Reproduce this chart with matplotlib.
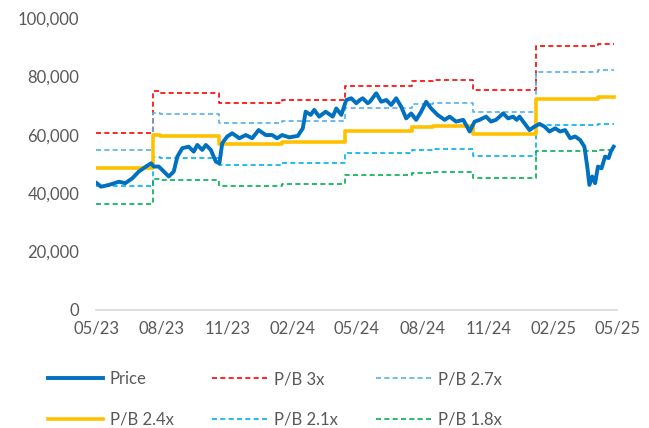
import pandas as pd
import matplotlib
matplotlib.use("Agg")
import matplotlib.pyplot as plt
import matplotlib.dates as mdates
from matplotlib.ticker import FuncFormatter

# share price (VND)
price_dates = [
    "2023-05-02", "2023-05-08", "2023-05-19", "2023-06-02", "2023-06-11", "2023-06-21",
    "2023-06-30", "2023-07-10", "2023-07-17", "2023-07-21", "2023-07-28", "2023-08-04",
    "2023-08-11", "2023-08-18", "2023-08-23", "2023-08-30", "2023-09-08", "2023-09-15",
    "2023-09-20", "2023-09-27", "2023-10-02", "2023-10-09", "2023-10-16", "2023-10-21",
    "2023-10-25", "2023-11-01", "2023-11-08", "2023-11-18", "2023-11-27", "2023-12-06",
    "2023-12-15", "2023-12-25", "2024-01-03", "2024-01-10", "2024-01-17", "2024-01-27",
    "2024-02-08", "2024-02-15", "2024-02-19", "2024-02-26", "2024-03-02", "2024-03-09",
    "2024-03-18", "2024-03-28", "2024-04-02", "2024-04-09", "2024-04-16", "2024-04-23",
    "2024-04-30", "2024-05-05", "2024-05-09", "2024-05-16", "2024-05-19", "2024-05-28",
    "2024-06-04", "2024-06-11", "2024-06-18", "2024-06-25", "2024-07-02", "2024-07-09",
    "2024-07-16", "2024-07-23", "2024-07-30", "2024-08-06", "2024-08-13", "2024-08-22",
    "2024-09-01", "2024-09-08", "2024-09-17", "2024-09-27", "2024-10-01", "2024-10-06",
    "2024-10-13", "2024-10-20", "2024-10-29", "2024-11-05", "2024-11-12", "2024-11-22",
    "2024-11-29", "2024-12-06", "2024-12-11", "2024-12-15", "2024-12-22", "2024-12-29",
    "2025-01-05", "2025-01-12", "2025-01-19", "2025-01-26", "2025-02-03", "2025-02-10",
    "2025-02-17", "2025-02-24", "2025-03-03", "2025-03-10", "2025-03-16", "2025-03-20",
    "2025-03-23", "2025-03-27", "2025-03-31", "2025-04-04", "2025-04-09", "2025-04-14",
    "2025-04-19", "2025-04-22", "2025-04-26",
]
price = [
    43400, 42200, 42800, 43900, 43400, 45100,
    47400, 49100, 50200, 49100, 49100, 47400,
    45700, 47400, 52500, 55400, 55900, 54200,
    56500, 54800, 56500, 54800, 50800, 50200,
    57100, 59400, 60500, 58800, 59900, 58800,
    61600, 59900, 59900, 58800, 59900, 59100,
    59600, 62200, 67900, 66800, 68500, 66200,
    67900, 66200, 69000, 66800, 71900, 72500,
    70800, 71900, 72500, 70800, 71300, 74200,
    71300, 71900, 70200, 72500, 69600, 65600,
    67300, 65100, 67900, 71300, 69000, 66800,
    65100, 66200, 64500, 65100, 63400, 61100,
    64500, 65100, 66200, 64500, 65100, 67300,
    65600, 66200, 65100, 66200, 63900, 61600,
    62800, 63700, 62800, 61100, 62200, 61100,
    61600, 58800, 59400, 58200, 55900, 49100,
    42800, 45700, 43400, 49100, 48500, 52500,
    52000, 54200, 55900,
]

# P/B bands, each value holds until the next date
band_dates = [
    "2023-05-01", "2023-07-20", "2023-07-29", "2023-10-21", "2024-01-17", "2024-04-14",
    "2024-07-17", "2024-08-16", "2024-10-11", "2025-01-07", "2025-04-04", "2025-04-26",
]
pb_30 = [60700, 75000, 74400, 71000, 71900, 76800, 78400, 78800, 75300, 90500, 91200, 91200]
pb_27 = [54700, 67500, 67000, 63900, 64700, 69100, 70600, 70900, 67800, 81500, 82100, 82100]
pb_24 = [48600, 60000, 59500, 56800, 57500, 61400, 62700, 63000, 60200, 72400, 73000, 73000]
pb_21 = [42500, 52500, 52100, 49700, 50300, 53800, 54900, 55200, 52700, 63400, 63800, 63800]
pb_18 = [36400, 45000, 44600, 42600, 43100, 46100, 47000, 47300, 45200, 54300, 54700, 54700]

px = pd.to_datetime(price_dates)
bx = pd.to_datetime(band_dates)

plt.rcParams['font.family'] = ['Lato', 'DejaVu Sans']
grey = "#595959"

fig = plt.figure(figsize=(6.49, 4.28), dpi=100)
ax = fig.add_axes([0.148, 0.276, 0.803, 0.682])

dash = (0, (3, 2))
l_30, = ax.plot(bx, pb_30, drawstyle="steps-post", color="#FF0000", lw=1.2, ls=dash, label="P/B 3x")
l_27, = ax.plot(bx, pb_27, drawstyle="steps-post", color="#55B0F0", lw=1.2, ls=dash, label="P/B 2.7x")
l_21, = ax.plot(bx, pb_21, drawstyle="steps-post", color="#00B0F0", lw=1.2, ls=dash, label="P/B 2.1x")
l_18, = ax.plot(bx, pb_18, drawstyle="steps-post", color="#00B050", lw=1.2, ls=dash, label="P/B 1.8x")
l_24, = ax.plot(bx, pb_24, drawstyle="steps-post", color="#FFC000", lw=2.6, label="P/B 2.4x")
l_px, = ax.plot(px, price, color="#0070C0", lw=2.8, label="Price", solid_joinstyle="round")

ax.set_ylim(0, 100000)
ax.set_xlim(pd.Timestamp("2023-05-01"), pd.Timestamp("2025-05-01"))
ax.set_yticks(range(0, 100001, 20000))
ax.yaxis.set_major_formatter(FuncFormatter(lambda v, p: f"{int(v):,}"))
ax.xaxis.set_major_locator(mdates.MonthLocator(bymonth=[2, 5, 8, 11]))
ax.xaxis.set_major_formatter(mdates.DateFormatter("%m/%y"))

for s in ["top", "right", "left"]:
    ax.spines[s].set_visible(False)
ax.spines["bottom"].set_color("#D9D9D9")
ax.spines["bottom"].set_linewidth(1.2)
ax.tick_params(axis="both", length=0, labelsize=12, labelcolor=grey)
ax.tick_params(axis="y", pad=12)
ax.tick_params(axis="x", pad=8)

handles = [l_px, l_24, l_30, l_21, l_27, l_18]
fig.legend(handles, [h.get_label() for h in handles], ncol=3, loc="upper left",
           bbox_to_anchor=(0.064, 0.148), frameon=False, fontsize=12,
           labelcolor=grey, handlelength=3.3, columnspacing=2.3,
           labelspacing=1.48, handletextpad=0.4, borderaxespad=0)

fig.savefig("out.png", dpi=100)
